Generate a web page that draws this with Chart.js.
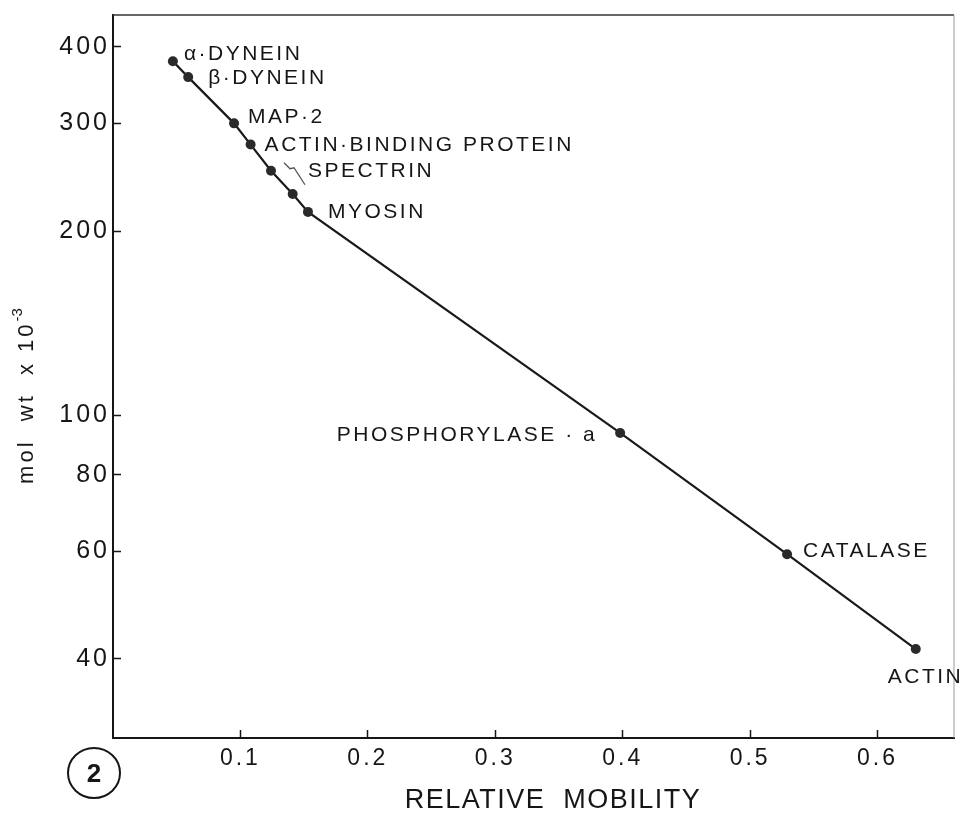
<!DOCTYPE html>
<html>
<head>
<meta charset="utf-8">
<script src="https://cdn.jsdelivr.net/npm/chart.js@4/dist/chart.umd.min.js"></script>
<style>
  html, body { margin: 0; padding: 0; background: #fff; }
  canvas { display: block; }
</style>
</head>
<body>
<canvas id="mobilityChart" width="959" height="816"></canvas>
<script>
// marker proteins: relative mobility on the gel vs. molecular weight (x 10^-3)
const proteins = ['α·DYNEIN', 'β·DYNEIN', 'MAP·2', 'ACTIN·BINDING PROTEIN', 'SPECTRIN', 'SPECTRIN', 'MYOSIN', 'PHOSPHORYLASE · a', 'CATALASE', 'ACTIN'];
const mobility = [0.047, 0.059, 0.095, 0.108, 0.124, 0.141, 0.153, 0.398, 0.529, 0.630];
const molWeight = [379, 357, 300, 277, 251, 230, 215, 93.6, 59.3, 41.5];
const xTicks = [0.1, 0.2, 0.3, 0.4, 0.5, 0.6];
const yTicks = [40, 60, 80, 100, 200, 300, 400];

const ink = '#161616';
const fontFamily = '"Liberation Sans", Arial, Helvetica, sans-serif';

// where each name sits relative to its dot
const labelPlace = [
  { dx: 11, dy: -7, align: 'left' },
  { dx: 20, dy: 1, align: 'left' },
  { dx: 14, dy: -6, align: 'left' },
  { dx: 14, dy: 1, align: 'left' },
  { dx: 37, dy: 0, align: 'left' },
  null,
  { dx: 20, dy: 0, align: 'left' },
  { dx: -23, dy: 2, align: 'right' },
  { dx: 16, dy: -3, align: 'left' },
  { dx: -28, dy: 28, align: 'left' },
];

// keep the plot box exactly where the scale sizes put it
const noEdgePadding = (s) => {
  s.paddingTop = 0;
  s.paddingBottom = 0;
  s.paddingLeft = 0;
  s.paddingRight = 0;
};

const decor = {
  id: 'decor',
  beforeDraw(chart) {
    // wider tracking for the tick numbers
    chart.ctx.letterSpacing = '3px';
  },
  afterDraw(chart) {
    const { ctx, chartArea: a } = chart;
    const pts = chart.getDatasetMeta(0).data;
    ctx.save();

    // top and right frame
    ctx.strokeStyle = '#333';
    ctx.lineWidth = 1.5;
    ctx.beginPath();
    ctx.moveTo(a.left, a.top);
    ctx.lineTo(a.right, a.top);
    ctx.stroke();
    ctx.strokeStyle = '#999';
    ctx.lineWidth = 1;
    ctx.beginPath();
    ctx.moveTo(a.right, a.top);
    ctx.lineTo(a.right, a.bottom);
    ctx.stroke();

    // protein names
    ctx.fillStyle = ink;
    ctx.font = '21px ' + fontFamily;
    ctx.letterSpacing = '2.5px';
    ctx.textBaseline = 'middle';
    proteins.forEach((name, i) => {
      const p = labelPlace[i];
      if (!p) return;
      ctx.textAlign = p.align;
      ctx.fillText(name, pts[i].x + p.dx, pts[i].y + p.dy);
    });

    // little brace tying the two spectrin bands together
    const s = pts[4];
    ctx.strokeStyle = '#555';
    ctx.lineWidth = 1.3;
    ctx.beginPath();
    ctx.moveTo(s.x + 13, s.y - 8);
    ctx.lineTo(s.x + 19, s.y - 2);
    ctx.lineTo(s.x + 23, s.y - 3);
    ctx.lineTo(s.x + 34, s.y + 14);
    ctx.stroke();

    // x axis title
    ctx.font = '27px ' + fontFamily;
    ctx.letterSpacing = '1.5px';
    ctx.textAlign = 'center';
    ctx.fillText('RELATIVE  MOBILITY', 553, 801);

    // y axis title with superscript exponent
    ctx.translate(27, 396);
    ctx.rotate(-Math.PI / 2);
    ctx.textAlign = 'left';
    ctx.font = '22px ' + fontFamily;
    ctx.letterSpacing = '3px';
    const main = 'mol  wt  x 10';
    const wMain = ctx.measureText(main).width;
    ctx.font = '15px ' + fontFamily;
    ctx.letterSpacing = '0px';
    const wSup = ctx.measureText('-3').width;
    const x0 = -(wMain + wSup) / 2;
    ctx.font = '22px ' + fontFamily;
    ctx.letterSpacing = '3px';
    ctx.fillText(main, x0, 0);
    ctx.font = '15px ' + fontFamily;
    ctx.letterSpacing = '0px';
    ctx.fillText('-3', x0 + wMain, -9);
    ctx.setTransform(1, 0, 0, 1, 0, 0);

    // figure number
    ctx.strokeStyle = ink;
    ctx.lineWidth = 2;
    ctx.beginPath();
    ctx.ellipse(94, 773, 26, 25, 0, 0, Math.PI * 2);
    ctx.stroke();
    ctx.font = 'bold 26px "Liberation Sans Narrow", ' + fontFamily;
    ctx.textAlign = 'center';
    ctx.fillText('2', 94, 775);

    ctx.restore();
  },
};

new Chart(document.getElementById('mobilityChart'), {
  type: 'scatter',
  data: {
    datasets: [
      {
        data: mobility.map((x, i) => ({ x, y: molWeight[i] })),
        showLine: true,
        borderColor: '#1a1a1a',
        borderWidth: 2.2,
        pointRadius: 5,
        pointBackgroundColor: '#2a2a2a',
        pointBorderColor: '#2a2a2a',
        pointBorderWidth: 0,
      },
    ],
  },
  options: {
    responsive: false,
    animation: false,
    devicePixelRatio: 1,
    layout: {
      padding: { top: 15, right: 0, left: 0, bottom: 0 },
    },
    scales: {
      x: {
        type: 'linear',
        min: 0,
        max: 0.66,
        afterBuildTicks: (s) => { s.ticks = xTicks.map((v) => ({ value: v })); },
        afterFit: (s) => { s.height = 78; noEdgePadding(s); },
        border: { display: true, color: ink, width: 2 },
        grid: { drawOnChartArea: false, drawTicks: true, tickLength: -8, tickWidth: 1.5, tickColor: ink },
        ticks: {
          color: ink,
          font: { family: fontFamily, size: 23 },
          padding: 15,
          maxRotation: 0,
          autoSkip: false,
          callback: (v) => String(v),
        },
      },
      y: {
        type: 'logarithmic',
        min: 29.7,
        max: 451,
        afterBuildTicks: (s) => { s.ticks = yTicks.map((v) => ({ value: v })); },
        afterFit: (s) => { s.width = 113; noEdgePadding(s); },
        border: { display: true, color: ink, width: 2 },
        grid: { drawOnChartArea: false, drawTicks: true, tickLength: -8, tickWidth: 1.5, tickColor: ink },
        ticks: {
          color: ink,
          font: { family: fontFamily, size: 25 },
          padding: 11,
          autoSkip: false,
          callback: (v) => String(v),
        },
      },
    },
    plugins: {
      legend: { display: false },
      tooltip: { enabled: false },
    },
  },
  plugins: [decor],
});
</script>
</body>
</html>
